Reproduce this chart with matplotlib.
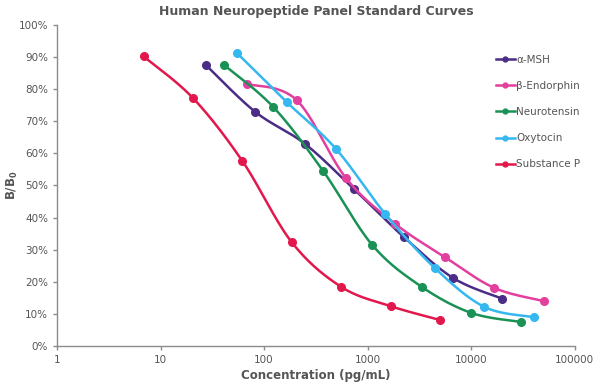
import numpy as np
import matplotlib
matplotlib.use("Agg")
import matplotlib.pyplot as plt
from matplotlib.ticker import FixedLocator, PercentFormatter

# Datos (concentracion en pg/mL, B/B0 en %)
msh_x = [27.4, 82.3, 247, 741, 2222, 6667, 20000]
msh_y = [87.5, 72.9, 63.0, 48.8, 34.0, 21.2, 14.7]

endo_x = [68.6, 206, 617, 1852, 5556, 16667, 50000]
endo_y = [81.6, 76.6, 52.3, 38.0, 27.7, 18.1, 14.0]

neuro_x = [41.2, 123, 370, 1111, 3333, 10000, 30000]
neuro_y = [87.5, 74.4, 54.6, 31.4, 18.4, 10.3, 7.5]

oxy_x = [54.9, 165, 494, 1481, 4444, 13333, 40000]
oxy_y = [91.2, 76.0, 61.4, 41.1, 24.3, 12.2, 9.0]

subp_x = [6.86, 20.6, 61.7, 185, 556, 1667, 5000]
subp_y = [90.2, 77.2, 57.6, 32.3, 18.4, 12.4, 8.1]

nombres = ["α-MSH", "β-Endorphin", "Neurotensin", "Oxytocin", "Substance P"]
colores = ["#4B2C86", "#E33F9E", "#1B9255", "#35B8F0", "#E2184C"]
series = [(msh_x, msh_y), (endo_x, endo_y), (neuro_x, neuro_y),
          (oxy_x, oxy_y), (subp_x, subp_y)]


def suavizar(x, y, n=30):
    # curva tipo Catmull-Rom en escala log (como las lineas suavizadas de Excel)
    lx = np.log10(x) / 5.0
    ly = np.array(y) / 100.0
    pts = np.column_stack([lx, ly])
    pts = np.vstack([pts[0], pts, pts[-1]])
    out = []
    for i in range(1, len(pts) - 2):
        p0, p1, p2, p3 = pts[i - 1], pts[i], pts[i + 1], pts[i + 2]
        c1 = p1 + (p2 - p0) / 6.0
        c2 = p2 - (p3 - p1) / 6.0
        t = np.linspace(0, 1, n)[:, None]
        b = ((1 - t) ** 3) * p1 + 3 * ((1 - t) ** 2) * t * c1 + 3 * (1 - t) * t ** 2 * c2 + t ** 3 * p2
        out.append(b)
    out = np.vstack(out)
    return 10 ** (out[:, 0] * 5.0), out[:, 1] * 100.0


fig = plt.figure(figsize=(6, 3.84), dpi=100)
ax = fig.add_axes([0.095, 0.099, 0.863, 0.836])

for (x, y), nombre, color in zip(series, nombres, colores):
    sx, sy = suavizar(x, y)
    ax.plot(sx, sy, color=color, lw=1.8, solid_capstyle="round")
    ax.plot(x, y, "o", color=color, ms=5.5)
    ax.plot([], [], "-o", color=color, lw=1.8, ms=3.5, label=nombre)

ax.set_xscale("log")
ax.set_xlim(1, 100000)
ax.set_ylim(0, 100)
ax.xaxis.set_major_locator(FixedLocator([1, 10, 100, 1000, 10000, 100000]))
ax.xaxis.set_minor_locator(FixedLocator([]))
ax.set_xticklabels(["1", "10", "100", "1000", "10000", "100000"])
ax.set_yticks(range(0, 101, 10))
ax.yaxis.set_major_formatter(PercentFormatter(decimals=0))

for lado in ["top", "right"]:
    ax.spines[lado].set_visible(False)
for lado in ["left", "bottom"]:
    ax.spines[lado].set_color("#8C8C8C")
    ax.spines[lado].set_linewidth(1.0)
ax.tick_params(colors="#8C8C8C", labelcolor="#555555", labelsize=7.5, length=3, width=1)

ax.set_title("Human Neuropeptide Panel Standard Curves", fontsize=9, fontweight="bold",
             color="#555555", pad=7)
ax.set_xlabel("Concentration (pg/mL)", fontsize=8.5, fontweight="bold", color="#555555", labelpad=3)
ax.set_ylabel("B/B$_\\mathbf{0}$", fontsize=8.5, fontweight="bold", color="#555555", labelpad=0)
ax.yaxis.set_label_coords(-0.072, 0.5)

ax.legend(loc="upper left", bbox_to_anchor=(0.84, 0.92), frameon=False, fontsize=7.5,
          labelcolor="#555555", handlelength=1.8, handletextpad=0.1, labelspacing=1.55,
          borderaxespad=0)

fig.savefig("out.png", dpi=100)
